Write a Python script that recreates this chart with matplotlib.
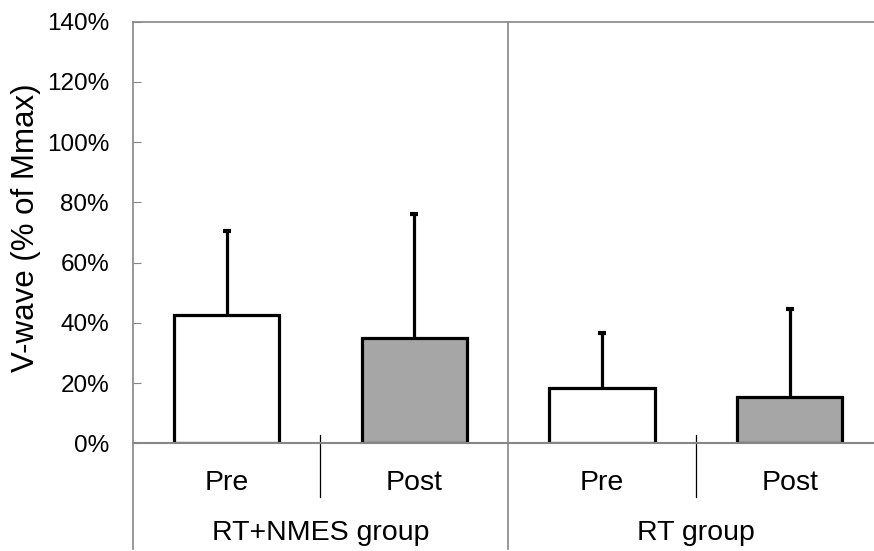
import matplotlib.pyplot as plt
from matplotlib.ticker import FuncFormatter

plt.rcParams['font.family'] = ['Liberation Sans', 'DejaVu Sans']

# V-wave amplitude, mean and SD (% of Mmax)
groups = ['RT+NMES group', 'RT group']
phases = ['Pre', 'Post', 'Pre', 'Post']
means = [42.5, 35.0, 18.5, 15.5]
sds = [28.0, 41.0, 18.0, 29.0]
fills = ['white', '#a6a6a6', 'white', '#a6a6a6']

axis_gray = '#868686'

fig = plt.figure(figsize=(8.74, 5.51), dpi=100)
ax = fig.add_axes([132.7 / 874, 0.1955, 1 - 132.7 / 874, 0.9606 - 0.1955])

x = list(range(len(means)))
ax.bar(x, means, width=0.56, color=fills, edgecolor='black', linewidth=2.3, zorder=3)
eb = ax.errorbar(x, means, yerr=[[0] * len(sds), sds], fmt='none', ecolor='black',
                 elinewidth=2.3, capsize=3.2, capthick=3, zorder=2)
# only the upper whisker gets a cap
eb[1][0].set_visible(False)

ax.set_xlim(-0.5, 3.449)
ax.set_ylim(0, 140)
ax.set_yticks(range(0, 141, 20))
ax.yaxis.set_major_formatter(FuncFormatter(lambda v, p: '%d%%' % v))
ax.tick_params(axis='y', direction='in', length=6, color=axis_gray, labelsize=17.5, pad=17)
ax.set_xticks([])

for s in ['right', 'bottom']:
    ax.spines[s].set_visible(False)
for s in ['left', 'top']:
    ax.spines[s].set_color(axis_gray)
    ax.spines[s].set_linewidth(1.2)

fig.text(26 / 874, 1 - 228 / 551, 'V-wave (% of Mmax)', rotation=90,
         ha='center', va='center', fontsize=22.5)

# category axis drawn below the plot area
ax.plot([-0.5, 3.449], [0, 0], color=axis_gray, lw=1.5, clip_on=False, zorder=4)
ax.plot([-0.5, -0.5], [0, -35], color=axis_gray, lw=1.2, clip_on=False)
ax.plot([1.5, 1.5], [140, -35], color=axis_gray, lw=1.2, clip_on=False)
for sep in [0.5, 2.5]:
    ax.plot([sep, sep], [2.7, -17.7], color='black', lw=0.9, clip_on=False)

for i, ph in enumerate(phases):
    ax.text(i, -15.5, ph, ha='center', va='baseline', fontsize=20.5)
for g, name in enumerate(groups):
    ax.text(0.5 + 2 * g, -32.1, name, ha='center', va='baseline', fontsize=20.5)

fig.savefig('out.png', dpi=100)
